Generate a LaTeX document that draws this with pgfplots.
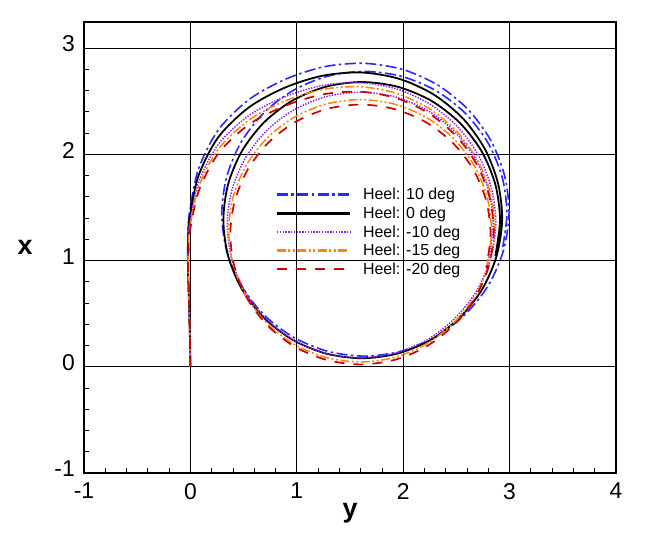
\documentclass[border=0pt]{standalone}
\usepackage{fontspec}
\setmainfont{Liberation Sans}
\usepackage{pgfplots}
\pgfplotsset{compat=1.18}
\definecolor{cBlue}{RGB}{40,40,255}
\definecolor{cPurple}{RGB}{140,30,255}
\definecolor{cOrange}{RGB}{255,135,0}
\definecolor{cRed}{RGB}{210,0,0}
\begin{document}
\begin{tikzpicture}
\begin{axis}[
  scale only axis, width=532bp, height=451bp,
  xmin=-1, xmax=4, ymin=-1, ymax=3.245,
  xtick={-1,0,1,2,3,4}, ytick={-1,0,1,2,3},
  minor x tick num=4, minor y tick num=4,
  tick pos=left, tick align=inside,
  major tick length=8bp, minor tick length=5bp,
  every tick/.style={black, line width=0.8bp},
  grid=major, major grid style={black, line width=0.8bp},
  axis line style={line width=1.8bp},
  /pgf/number format/assume math mode=true,
  ticklabel style={font=\fontsize{23}{23}\selectfont, inner sep=0pt},
  xticklabel style={yshift=-10bp},
  yticklabel style={xshift=-9bp, yshift=4bp},
  xlabel={\bfseries y}, ylabel={\bfseries x},
  label style={font=\fontsize{27}{27}\selectfont},
  xlabel style={at={(axis description cs:0.5,0)}, anchor=center, yshift=-40bp},
  ylabel style={rotate=-90, at={(axis description cs:0,0.5)}, anchor=center, xshift=-59bp},
  legend style={at={(axis cs:0.80,1.69)}, anchor=north west, draw=none, fill=none,
    font=\fontsize{16}{16}\selectfont, row sep=3.6bp, column sep=11bp, inner sep=0pt,
    nodes={inner sep=1bp}},
  legend cell align=left,
  legend image code/.code={\draw[#1, line width=2.4bp, line cap=butt] (0bp,0.25bp) -- (73bp,0.25bp);},
]
\addplot[cBlue, line width=1.6bp, smooth, dash pattern=on 11bp off 3.5bp on 2.5bp off 3.5bp] coordinates {
(0,0) (-0.004,0.25) (-0.01,0.5) (-0.018,0.75) (-0.024,1.0) (-0.022,1.22) (-0.010,1.440) (0.075,1.858) (0.264,2.2315) (0.556,2.519) (0.902,2.710) (1.264,2.825) (1.635,2.856) (1.999,2.797) (2.332,2.647) (2.613,2.418) (2.825,2.127) (2.954,1.794) (2.995,1.44) (2.941,1.090) (2.801,0.767) (2.5825,0.4925) (2.305,0.280) (1.982,0.146) (1.635,0.10) (1.288,0.146) (0.965,0.280) (0.6875,0.4925) (0.4746,0.77) (0.3407,1.0932) (0.295,1.44) (0.3407,1.7868) (0.4746,2.11) (0.6875,2.3875) (0.965,2.6004) (1.288,2.7343) (1.635,2.78) (1.982,2.7343) (2.305,2.6004) (2.5825,2.3875) (2.7954,2.11) (2.9293,1.7868) (2.975,1.44) (2.9293,1.0932)
};
\addlegendentry{Heel: 10 deg}
\addplot[black, line width=1.8bp, smooth] coordinates {
(0,0) (-0.004,0.25) (-0.01,0.5) (-0.018,0.75) (-0.024,1.0) (-0.022,1.2) (-0.010,1.380) (0.074,1.792) (0.261,2.159) (0.549,2.441) (0.890,2.628) (1.246,2.740) (1.61,2.770) (1.966,2.709) (2.291,2.5595) (2.564,2.334) (2.768,2.049) (2.892,1.723) (2.930,1.380) (2.877,1.040) (2.741,0.727) (2.529,0.461) (2.26,0.254) (1.946,0.124) (1.61,0.08) (1.274,0.124) (0.96,0.254) (0.691,0.461) (0.484,0.73) (0.354,1.044) (0.31,1.38) (0.354,1.716) (0.484,2.03) (0.691,2.299) (0.96,2.506) (1.274,2.636) (1.61,2.68) (1.946,2.636) (2.26,2.506) (2.529,2.299) (2.736,2.03) (2.866,1.716) (2.91,1.38) (2.866,1.044)
};
\addlegendentry{Heel: 0 deg}
\addplot[cPurple, line width=1.5bp, smooth, dash pattern=on 1.4bp off 1.4bp] coordinates {
(0,0) (-0.004,0.25) (-0.01,0.5) (-0.018,0.75) (-0.024,1.0) (-0.018,1.17) (-0.010,1.334) (0.079,1.741) (0.268,2.101) (0.559,2.371) (0.897,2.545) (1.244,2.648) (1.596,2.673) (1.939,2.615) (2.2525,2.471) (2.516,2.254) (2.713,1.979) (2.833,1.665) (2.870,1.334) (2.817,1.007) (2.685,0.7055) (2.480,0.450) (2.221,0.2515) (1.9195,0.1266) (1.596,0.084) (1.2725,0.1266) (0.971,0.2515) (0.712,0.450) (0.5135,0.709) (0.3886,1.0105) (0.346,1.334) (0.3886,1.6575) (0.5135,1.959) (0.712,2.218) (0.971,2.4165) (1.2725,2.5414) (1.596,2.584) (1.9195,2.5414) (2.221,2.4165) (2.480,2.218) (2.6785,1.959) (2.8034,1.6575) (2.846,1.334) (2.8034,1.0105)
};
\addlegendentry{Heel: -10 deg}
\addplot[cOrange, line width=1.5bp, smooth, dash pattern=on 9bp off 2.5bp on 2bp off 2.5bp on 2bp off 2.5bp] coordinates {
(0,0) (-0.004,0.25) (-0.01,0.5) (-0.018,0.75) (-0.022,1.0) (-0.016,1.15) (-0.010,1.28) (0.076,1.687) (0.263,2.049) (0.552,2.323) (0.8895,2.502) (1.239,2.609) (1.595,2.636) (1.941,2.572) (2.255,2.423) (2.516,2.201) (2.710,1.924) (2.826,1.610) (2.860,1.28) (2.805,0.956) (2.672,0.658) (2.468,0.407) (2.2125,0.2105) (1.9146,0.0871) (1.595,0.045) (1.2754,0.0871) (0.9775,0.2105) (0.7217,0.407) (0.5255,0.6625) (0.4021,0.9604) (0.36,1.28) (0.4021,1.5996) (0.5255,1.8975) (0.7217,2.1533) (0.9775,2.3495) (1.2754,2.4729) (1.595,2.515) (1.9146,2.4729) (2.2125,2.3495) (2.4683,2.1533) (2.6645,1.8975) (2.7879,1.5996) (2.83,1.28) (2.7879,0.9604)
};
\addlegendentry{Heel: -15 deg}
\addplot[cRed, line width=1.7bp, smooth, dash pattern=on 10bp off 9bp] coordinates {
(0,0) (-0.004,0.25) (-0.01,0.5) (-0.016,0.75) (-0.02,0.95) (-0.016,1.1) (-0.010,1.245) (0.078,1.652) (0.267,2.0135) (0.558,2.285) (0.897,2.459) (1.245,2.5635) (1.598,2.589) (1.941,2.526) (2.252,2.378) (2.511,2.158) (2.703,1.883) (2.817,1.572) (2.851,1.245) (2.797,0.924) (2.665,0.629) (2.463,0.380) (2.2095,0.1859) (1.9145,0.0637) (1.598,0.022) (1.2815,0.0637) (0.9865,0.1859) (0.7332,0.380) (0.5389,0.6335) (0.4167,0.9309) (0.375,1.245) (0.4167,1.5591) (0.5389,1.8565) (0.7332,2.1098) (0.9865,2.3041) (1.2815,2.4263) (1.598,2.468) (1.9145,2.4263) (2.2095,2.3041) (2.4630,2.1098) (2.6591,1.8565) (2.7813,1.5591) (2.821,1.245) (2.7813,0.9309)
};
\addlegendentry{Heel: -20 deg}
\end{axis}
\pgfresetboundingbox
\path[use as bounding box] ([shift={(-84bp,-68bp)}]current axis.south west) rectangle ++(645bp,541bp);
\end{tikzpicture}
\end{document}
